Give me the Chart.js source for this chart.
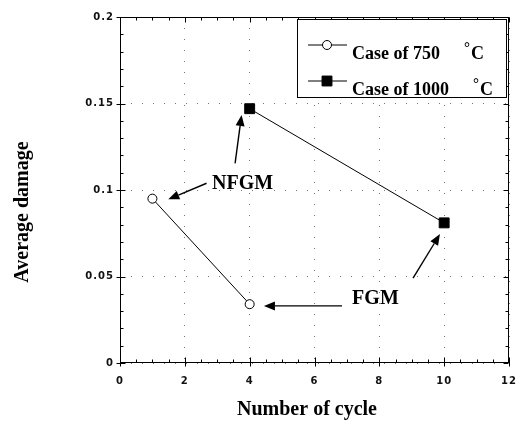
<!DOCTYPE html>
<html>
<head>
<meta charset="utf-8">
<script src="https://cdn.jsdelivr.net/npm/chart.js@4/dist/chart.umd.min.js"></script>
<style>
  html, body { margin: 0; padding: 0; background: #fff; }
</style>
</head>
<body>
<canvas id="damageChart" width="521" height="423"></canvas>
<script>
"use strict";

// values
var seriesNames = ['Case of 750', 'Case of 1000'];
var cycles750 = [1, 4];
var damage750 = [0.095, 0.034];
var cycles1000 = [4, 10];
var damage1000 = [0.147, 0.081];
var xTickLabels = ['0', '2', '4', '6', '8', '10', '12'];
var yTickLabels = ['0', '0.05', '0.1', '0.15', '0.2'];
var xTitle = 'Number of cycle';
var yTitle = 'Average damage';

// annotations, in data units: label centre and arrows [tailX, tailY, tipX, tipY]
var noteLabels = ['NFGM', 'FGM'];
var noteX = [3.78, 7.88];
var noteY = [0.1035, 0.037];
var noteArrows = [
	[[3.55, 0.1154, 3.75, 0.1434], [2.67, 0.1039, 1.49, 0.0946]],
	[[6.85, 0.0330, 4.44, 0.0330], [9.04, 0.0490, 9.87, 0.0745]]
];

function toPoints(xs, ys) {
	return xs.map(function (x, i) { return { x: x, y: ys[i] }; });
}

function drawArrow(ctx, x1, y1, x2, y2) {
	var ang = Math.atan2(y2 - y1, x2 - x1);
	var len = 11, half = 4.5;
	var bx = x2 - len * Math.cos(ang), by = y2 - len * Math.sin(ang);
	ctx.beginPath();
	ctx.moveTo(x1, y1);
	ctx.lineTo(bx, by);
	ctx.stroke();
	ctx.beginPath();
	ctx.moveTo(x2, y2);
	ctx.lineTo(bx + half * Math.sin(ang), by - half * Math.cos(ang));
	ctx.lineTo(bx - half * Math.sin(ang), by + half * Math.cos(ang));
	ctx.closePath();
	ctx.fill();
}

// keep the plot box fixed, whatever the tick labels measure
function fixBox(size, key) {
	return function (scale) {
		scale[key] = size;
		scale.paddingLeft = 0;
		scale.paddingRight = 0;
		scale.paddingTop = 0;
		scale.paddingBottom = 0;
	};
}

var serif = '"Liberation Serif", "Times New Roman", serif';

var figurePlugin = {
	id: 'figurePlugin',
	beforeDraw: function (chart) {
		// tick labels in the original are a bit spread out
		chart.ctx.letterSpacing = '1px';
	},
	afterDraw: function (chart) {
		var ctx = chart.ctx, a = chart.chartArea;
		var xs = chart.scales.x, ys = chart.scales.y;
		ctx.save();
		ctx.letterSpacing = '0px';
		ctx.strokeStyle = '#000';
		ctx.fillStyle = '#000';
		ctx.lineWidth = 1;

		// frame
		var L = Math.round(a.left) + 0.5, R = Math.round(a.right) - 0.5;
		var T = Math.round(a.top) + 0.5, B = Math.round(a.bottom) - 0.5;
		ctx.strokeRect(L, T, R - L, B - T);

		// tick marks, pointing into the plot
		ctx.beginPath();
		for (var i = 0; i <= 24; i++) {
			var px = Math.round(xs.getPixelForValue(i * 0.5)) + 0.5;
			var major = (i % 4 === 0);
			ctx.moveTo(px, B + (major ? 4 : 0));
			ctx.lineTo(px, B - (major ? 5 : 3));
			ctx.moveTo(px, T);
			ctx.lineTo(px, T + (major ? 5 : 3));
		}
		for (var j = 0; j <= 20; j++) {
			var py = Math.round(ys.getPixelForValue(j * 0.01)) + 0.5;
			var maj = (j % 5 === 0);
			ctx.moveTo(L - (maj ? 4 : 0), py);
			ctx.lineTo(L + (maj ? 5 : 3), py);
			ctx.moveTo(R, py);
			ctx.lineTo(R - (maj ? 5 : 3), py);
		}
		ctx.stroke();

		// legend box
		var bx = a.right - 212, by = a.top + 2, bw = 209, bh = 78;
		ctx.fillStyle = '#fff';
		ctx.fillRect(bx, by, bw, bh);
		ctx.fillStyle = '#000';
		ctx.strokeRect(Math.round(bx) + 0.5, Math.round(by) + 0.5, bw, bh);
		var rowY = [by + 26, by + 62];
		chart.data.datasets.forEach(function (ds, k) {
			var y = rowY[k];
			ctx.beginPath();
			ctx.moveTo(bx + 11, y);
			ctx.lineTo(bx + 50, y);
			ctx.strokeStyle = ds.borderColor;
			ctx.lineWidth = ds.borderWidth;
			ctx.stroke();
			ctx.fillStyle = ds.pointBackgroundColor;
			ctx.strokeStyle = ds.pointBorderColor;
			ctx.lineWidth = ds.pointBorderWidth;
			Chart.helpers.drawPoint(ctx, {
				pointStyle: ds.pointStyle, radius: ds.pointRadius,
				rotation: 0, borderWidth: ds.pointBorderWidth
			}, bx + 30, y);
			ctx.fillStyle = '#000';
			ctx.textAlign = 'left';
			ctx.textBaseline = 'alphabetic';
			ctx.font = 'bold 18px ' + serif;
			var tx = bx + 55;
			ctx.fillText(seriesNames[k], tx, y + 14);
			var tEnd = tx + ctx.measureText(seriesNames[k]).width;
			ctx.fillText('C', tEnd + 31, y + 14);
			ctx.font = 'bold 15px ' + serif;
			ctx.fillText('\u00B0', tEnd + 24, y + 7);
		});

		// annotations
		ctx.strokeStyle = '#000';
		ctx.fillStyle = '#000';
		ctx.lineWidth = 1.4;
		noteLabels.forEach(function (label, k) {
			ctx.font = 'bold 20px ' + serif;
			ctx.textAlign = 'center';
			ctx.textBaseline = 'middle';
			ctx.fillText(label, xs.getPixelForValue(noteX[k]), ys.getPixelForValue(noteY[k]));
			noteArrows[k].forEach(function (ar) {
				drawArrow(ctx,
					xs.getPixelForValue(ar[0]), ys.getPixelForValue(ar[1]),
					xs.getPixelForValue(ar[2]), ys.getPixelForValue(ar[3]));
			});
		});

		// axis titles
		ctx.font = 'bold 20px ' + serif;
		ctx.textAlign = 'center';
		ctx.textBaseline = 'alphabetic';
		ctx.fillText(xTitle, 307, 415);
		ctx.translate(28, 212);
		ctx.rotate(-Math.PI / 2);
		ctx.fillText(yTitle, 0, 0);
		ctx.restore();
	}
};

var tickFont = { family: '"DejaVu Sans", sans-serif', size: 10, weight: 'bold' };

var damageChart = new Chart(document.getElementById('damageChart'), {
	type: 'line',
	data: {
		datasets: [{
			label: seriesNames[0],
			data: toPoints(cycles750, damage750),
			borderColor: '#000',
			borderWidth: 1,
			pointStyle: 'circle',
			pointRadius: 4.5,
			pointBackgroundColor: '#fff',
			pointBorderColor: '#000',
			pointBorderWidth: 1,
			fill: false
		}, {
			label: seriesNames[1],
			data: toPoints(cycles1000, damage1000),
			borderColor: '#000',
			borderWidth: 1,
			pointStyle: 'rect',
			pointRadius: 7,
			pointBackgroundColor: '#000',
			pointBorderColor: '#000',
			pointBorderWidth: 1,
			fill: false
		}]
	},
	plugins: [figurePlugin],
	options: {
		responsive: false,
		animation: false,
		events: [],
		layout: { padding: { left: 0, top: 17, right: 12, bottom: 0 } },
		plugins: {
			legend: { display: false },
			tooltip: { enabled: false }
		},
		scales: {
			x: {
				type: 'linear',
				min: 0,
				max: 12,
				afterFit: fixBox(60, 'height'),
				ticks: {
					stepSize: 2,
					padding: 12,
					color: '#111',
					font: tickFont,
					maxRotation: 0,
					autoSkip: false,
					callback: function (value, index) { return xTickLabels[index]; }
				},
				grid: { color: '#777', lineWidth: 1, drawTicks: false },
				border: { display: false, dash: [1, 10] }
			},
			y: {
				min: 0,
				max: 0.2,
				afterFit: fixBox(120, 'width'),
				ticks: {
					stepSize: 0.05,
					padding: 6,
					color: '#111',
					font: tickFont,
					callback: function (value, index) { return yTickLabels[index]; }
				},
				grid: { color: '#777', lineWidth: 1, drawTicks: false },
				border: { display: false, dash: [1, 10] }
			}
		}
	}
});
</script>
</body>
</html>
